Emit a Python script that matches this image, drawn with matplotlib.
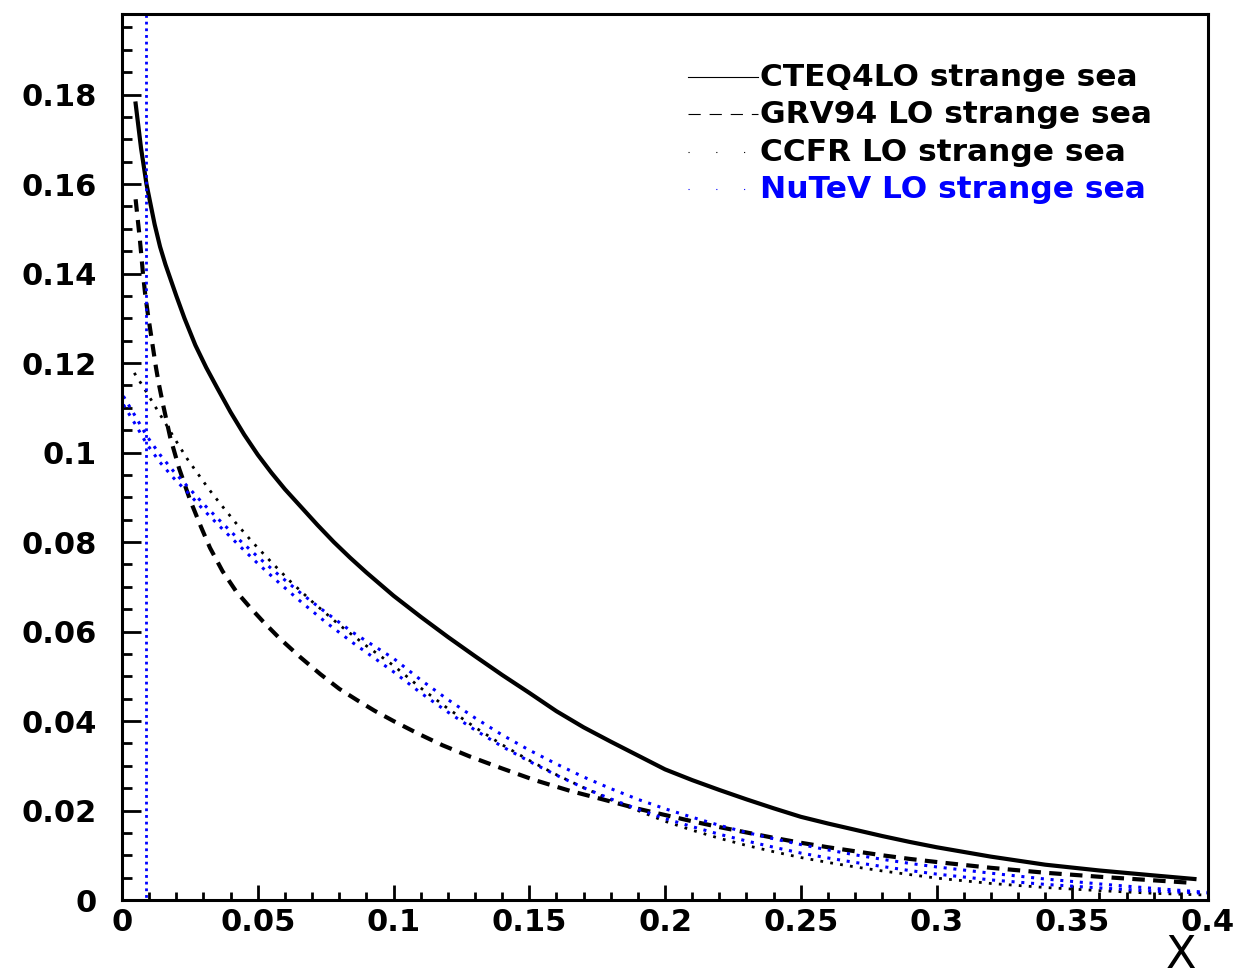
import matplotlib
matplotlib.use("Agg")
import matplotlib.pyplot as plt
from matplotlib.ticker import MultipleLocator, FuncFormatter

plt.rcParams['font.family'] = ['DejaVu Sans']

# strange sea curves
cteq_x = [0.005, 0.006, 0.007, 0.008, 0.009, 0.010, 0.012, 0.014, 0.016, 0.018,
          0.020, 0.023, 0.027, 0.031, 0.035, 0.040, 0.045, 0.050, 0.055, 0.060,
          0.066, 0.072, 0.078, 0.084, 0.090, 0.100, 0.110, 0.120, 0.130, 0.140,
          0.150, 0.160, 0.170, 0.180, 0.190, 0.200, 0.210, 0.220, 0.230, 0.240,
          0.250, 0.260, 0.270, 0.280, 0.290, 0.300, 0.320, 0.340, 0.360, 0.380, 0.395]
cteq_y = [0.178, 0.173, 0.168, 0.164, 0.160, 0.157, 0.151, 0.146, 0.142, 0.1385,
          0.135, 0.130, 0.124, 0.119, 0.1145, 0.109, 0.104, 0.0995, 0.0955, 0.0918,
          0.0878, 0.0838, 0.080, 0.0765, 0.0732, 0.068, 0.0633, 0.0588, 0.0545, 0.0503,
          0.0463, 0.0422, 0.0386, 0.0354, 0.0323, 0.0292, 0.0268, 0.0246, 0.0225, 0.0205,
          0.0186, 0.0171, 0.0157, 0.0143, 0.013, 0.0118, 0.0097, 0.0079, 0.0066, 0.0055, 0.0047]

grv_x = [0.005, 0.0058, 0.0065, 0.0072, 0.0077, 0.0085, 0.0095, 0.0105, 0.0115, 0.0125,
         0.0135, 0.015, 0.0177, 0.021, 0.025, 0.029, 0.0324, 0.037, 0.042, 0.047,
         0.052, 0.058, 0.0656, 0.073, 0.080, 0.0865, 0.093, 0.100, 0.109, 0.118,
         0.128, 0.140, 0.152, 0.165, 0.177, 0.190, 0.200, 0.210, 0.220, 0.230,
         0.240, 0.250, 0.260, 0.270, 0.280, 0.290, 0.300, 0.320, 0.340, 0.360, 0.380, 0.395]
grv_y = [0.1566, 0.152, 0.148, 0.1435, 0.140, 0.1355, 0.131, 0.127, 0.123, 0.119,
         0.1155, 0.111, 0.1035, 0.0965, 0.0895, 0.0835, 0.0787, 0.0735, 0.069, 0.0655,
         0.0622, 0.0585, 0.0543, 0.0505, 0.0472, 0.0447, 0.0423, 0.040, 0.0372, 0.0346,
         0.0321, 0.0294, 0.0268, 0.0244, 0.0225, 0.0204, 0.019, 0.0176, 0.0163, 0.0151,
         0.0139, 0.0128, 0.0118, 0.0109, 0.010, 0.0092, 0.0085, 0.0072, 0.0061, 0.0052, 0.0044, 0.0038]

ccfr_x = [0.0045, 0.008, 0.012, 0.016, 0.020, 0.024, 0.028, 0.032, 0.036, 0.042,
          0.048, 0.055, 0.062, 0.070, 0.080, 0.090, 0.100, 0.110, 0.120, 0.130,
          0.140, 0.150, 0.160, 0.170, 0.180, 0.190, 0.200, 0.210, 0.220, 0.230,
          0.240, 0.250, 0.260, 0.270, 0.280, 0.290, 0.300, 0.320, 0.340, 0.360, 0.380, 0.400]
ccfr_y = [0.1178, 0.1145, 0.1105, 0.1065, 0.1025, 0.0986, 0.0952, 0.0918, 0.0887, 0.0842,
          0.080, 0.0755, 0.0712, 0.0667, 0.0615, 0.0568, 0.0524, 0.0474, 0.0428, 0.0386,
          0.0347, 0.0312, 0.028, 0.0251, 0.0224, 0.020, 0.0176, 0.0156, 0.0138, 0.0122,
          0.0108, 0.0095, 0.0084, 0.0074, 0.0065, 0.0057, 0.0049, 0.0037, 0.0028, 0.0021, 0.0015, 0.0011]

nutev_x = [0.0005, 0.005, 0.009, 0.014, 0.019, 0.024, 0.030, 0.036, 0.043, 0.050,
           0.058, 0.066, 0.075, 0.085, 0.100, 0.110, 0.120, 0.130, 0.140, 0.150,
           0.160, 0.170, 0.180, 0.190, 0.200, 0.210, 0.220, 0.230, 0.240, 0.250,
           0.260, 0.270, 0.280, 0.290, 0.300, 0.320, 0.340, 0.360, 0.380, 0.400]
nutev_hi = [0.1126, 0.108, 0.1038, 0.0995, 0.0958, 0.0925, 0.0885, 0.0848, 0.0806, 0.0767,
            0.0725, 0.0685, 0.0643, 0.0598, 0.054, 0.0492, 0.0448, 0.0407, 0.0369, 0.0335,
            0.0304, 0.0275, 0.0249, 0.0225, 0.0204, 0.0185, 0.0167, 0.0151, 0.0137, 0.0124,
            0.0112, 0.0101, 0.0091, 0.0082, 0.0074, 0.006, 0.0047, 0.0036, 0.0026, 0.0017]
nutev_lo = [0.1107, 0.1062, 0.102, 0.0978, 0.0943, 0.0912, 0.0872, 0.0835, 0.0793, 0.0752,
            0.0708, 0.0666, 0.0621, 0.0575, 0.051, 0.0463, 0.042, 0.038, 0.0343, 0.031,
            0.0279, 0.0251, 0.0226, 0.0203, 0.0182, 0.0164, 0.0147, 0.0132, 0.0118, 0.0105,
            0.0094, 0.0084, 0.0075, 0.0066, 0.0058, 0.0045, 0.0035, 0.0027, 0.002, 0.0015]

x_cut = 0.0087
y_max = 0.198

labels = ["CTEQ4LO strange sea", "GRV94 LO strange sea",
          "CCFR LO strange sea", "NuTeV LO strange sea"]

fig = plt.figure(figsize=(12.39, 9.8), dpi=100)
ax = fig.add_axes([0.0985, 0.0816, 0.8765, 0.9041])

blue = (0, 0, 1)
ax.plot(cteq_x, cteq_y, color='k', lw=3, ls='-')
ax.plot(grv_x, grv_y, color='k', lw=3, ls=(0, (3, 2)))
ax.plot(ccfr_x, ccfr_y, color='k', lw=2, ls=(0, (1, 2.6)))
ax.plot(nutev_x, nutev_hi, color=blue, lw=2.2, ls=(0, (1, 2.2)))
ax.plot(nutev_x, nutev_lo, color=blue, lw=2.2, ls=(0, (1, 2.2)))
ax.plot([0, x_cut, x_cut], [0, 0, y_max], color=blue, lw=2, ls=(0, (1, 1.4)))

ax.set_xlim(0, 0.4)
ax.set_ylim(0, y_max)

ax.xaxis.set_major_locator(MultipleLocator(0.05))
ax.xaxis.set_minor_locator(MultipleLocator(0.01))
ax.yaxis.set_major_locator(MultipleLocator(0.02))
ax.yaxis.set_minor_locator(MultipleLocator(0.005))
fmt = FuncFormatter(lambda v, p: "%g" % round(v, 4))
ax.xaxis.set_major_formatter(fmt)
ax.yaxis.set_major_formatter(fmt)

ax.tick_params(axis='both', which='both', direction='in', top=False, right=False, width=2)
ax.tick_params(axis='y', which='major', length=14, pad=18, labelsize=22)
ax.tick_params(axis='y', which='minor', length=7)
ax.tick_params(axis='x', which='major', length=11, pad=6, labelsize=22)
ax.tick_params(axis='x', which='minor', length=6)
for lab in ax.get_xticklabels() + ax.get_yticklabels():
    lab.set_fontweight('bold')
for sp in ax.spines.values():
    sp.set_linewidth(2.2)

# legend drawn by hand, as in the ROOT canvas
rows = [0.9289, 0.8871, 0.8442, 0.8025]
styles = ['-', (0, (11, 8)), (0, (1, 24)), (0, (1, 24))]
colors = ['k', 'k', 'k', blue]
for lab, yy, st, c in zip(labels, rows, styles, colors):
    ax.plot([0.521, 0.5856], [yy, yy], transform=ax.transAxes, color=c, lw=0.8, ls=st)
    ax.text(0.5875, yy, lab, transform=ax.transAxes, color=c, fontsize=22.5,
            fontweight='bold', va='center', ha='left')

fig.text(0.953, 0.003, "X", fontsize=32, ha='center', va='bottom')

fig.savefig("out.png", dpi=100)
